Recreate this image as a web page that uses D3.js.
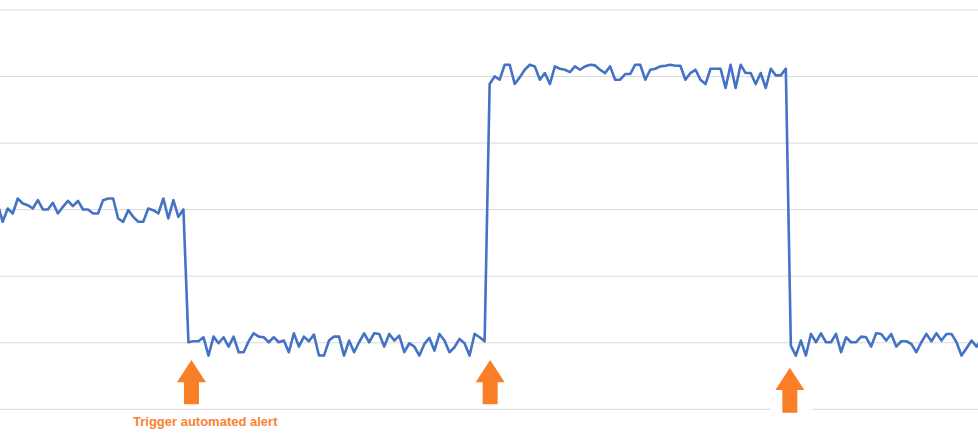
<!DOCTYPE html>
<html>
<head>
<meta charset="utf-8">
<script src="https://cdn.jsdelivr.net/npm/d3@7"></script>
<style>
  html, body { margin: 0; padding: 0; background: #ffffff; }
  svg { display: block; }
</style>
</head>
<body>
<svg id="chart" width="978" height="448"></svg>
<script>
// ---- data (index -1 .. 195) ----
const firstIndex = -1;
const seg1 = [61.5, 56.2, 60.2, 58.7, 63.2, 61.7, 61.2, 60.2, 62.7, 59.9, 59.9, 61.9, 58.7, 60.7, 62.5, 60.9, 62.5, 59.9, 59.9, 58.7, 58.7, 62.7, 63.2, 63.2, 57.2, 56.2, 59.7, 57.7, 56.2, 56.2, 60.2, 59.7, 58.7, 63.2, 57.2, 62.7, 57.7, 59.9];
const seg2 = [20.0, 20.3, 20.3, 21.5, 16.0, 21.7, 19.7, 21.5, 18.7, 21.7, 17.0, 17.0, 20.3, 22.7, 21.7, 21.5, 20.0, 21.5, 20.0, 20.5, 17.0, 22.7, 18.7, 21.7, 20.3, 22.3, 16.0, 16.0, 20.5, 21.7, 21.7,
              16.0, 20.5, 17.0, 20.0, 22.7, 20.0, 22.7, 22.5, 18.7, 22.5, 20.5, 22.0, 17.0, 19.7, 18.7, 16.0, 19.5, 21.3, 17.5, 22.5, 20.5, 17.0, 18.5, 21.0, 19.7, 16.0, 22.5, 21.5, 20.3];
const seg3 = [97.6, 99.9, 98.9, 103.4, 103.4, 97.6, 99.6, 101.9, 103.4, 102.9, 98.9, 100.9, 97.6, 102.9, 102.2, 101.9, 101.2, 102.9, 101.9, 102.9, 103.4, 103.2, 101.9, 100.9, 102.9, 98.9, 98.9, 100.6, 100.6, 103.4, 103.4,
              98.9, 101.9, 102.2, 102.9, 103.1, 103.4, 103.1, 103.1, 98.9, 100.9, 101.9, 98.9, 97.6, 102.2, 102.2, 102.2, 96.4, 103.4, 96.4, 103.4, 100.9, 100.9, 97.6, 100.9, 96.4, 102.2, 100.2, 100.2, 102.2];
const seg4 = [19.0, 16.0, 20.5, 16.0, 22.5, 20.0, 22.7, 20.0, 20.0, 22.5, 17.0, 21.5, 20.0, 20.0, 21.7, 21.5, 18.7, 22.7, 22.5, 20.5, 22.5, 18.7, 20.3, 20.3, 19.5, 17.0, 20.0, 22.5, 20.3, 22.7, 20.5, 22.5, 22.5, 20.0, 16.0, 18.2, 20.5, 18.7, 21.0];
const yTicks = [0, 20, 40, 60, 80, 100, 120];
const alertPositions = [37.6, 97.1, 156.8];
const alertLabel = "Trigger automated alert";

const values = seg1.concat(seg2, seg3, seg4);
const data = values.map((v, i) => ({ i: i + firstIndex, v }));

// ---- scales ----
const x = d3.scaleLinear().domain([-1, 195]).range([-2.32, 981.6]);
const y = d3.scaleLinear().domain([0, 120]).range([408.8, 9.5]);

const svg = d3.select("#chart");
svg.append("rect").attr("width", 978).attr("height", 448).attr("fill", "#ffffff");

// gridlines
const yAxis = d3.axisLeft(y).tickValues(yTicks).tickSize(-978).tickFormat("");
const g = svg.append("g").attr("transform", "translate(0,0)").call(yAxis);
g.select(".domain").remove();
g.selectAll(".tick line").attr("stroke", "#d9d9d9").attr("stroke-width", 1);

// line
const line = d3.line().x(d => x(d.i)).y(d => y(d.v));
svg.append("path")
  .datum(data)
  .attr("fill", "none")
  .attr("stroke", "#4472C4")
  .attr("stroke-width", 2.6)
  .attr("stroke-linejoin", "round")
  .attr("d", line);

// arrows
const orange = "#F97E25";
const arrowTops = [360, 360, 367.7];
const arrowBottoms = [404.3, 404.3, 412.7];
alertPositions.forEach((p, k) => {
  const cx = x(p);
  const top = arrowTops[k], bot = arrowBottoms[k];
  const headH = 22.3, headW = 14.5, shaftW = 7.5;
  if (k === 2) {
    svg.append("rect").attr("x", cx - 19).attr("y", 403).attr("width", 42).attr("height", 12).attr("fill", "#ffffff");
  }
  const pts = [
    [cx, top], [cx + headW, top + headH], [cx + shaftW, top + headH],
    [cx + shaftW, bot], [cx - shaftW, bot], [cx - shaftW, top + headH],
    [cx - headW, top + headH]
  ];
  svg.append("polygon").attr("points", pts.map(p => p.join(",")).join(" ")).attr("fill", orange);
});

// label
svg.append("text")
  .attr("x", 133)
  .attr("y", 426)
  .attr("fill", "#FA8230")
  .attr("font-family", "'Liberation Sans', Arial, sans-serif")
  .attr("font-weight", "bold")
  .attr("font-size", 13)
  .text(alertLabel);
</script>
</body>
</html>
